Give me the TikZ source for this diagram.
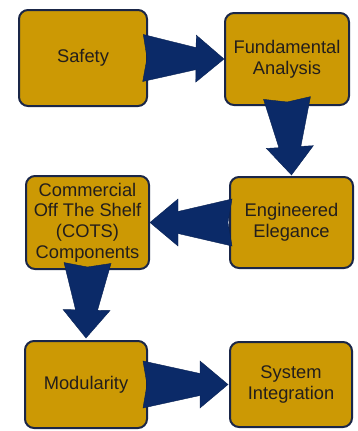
\documentclass[tikz,border=0pt]{standalone}
\usepackage{fontspec}
\setmainfont{Liberation Sans}
\usetikzlibrary{calc}

\definecolor{boxgold}{RGB}{204,153,4}
\definecolor{boxedge}{RGB}{26,38,72}
\definecolor{arrownavy}{RGB}{11,42,104}
\definecolor{labelink}{RGB}{35,30,28}

% Tapered block arrow from tail point #1 to tip point #2
\newcommand{\blockarrow}[2]{%
  \fill[arrownavy, draw=arrownavy!80!black, line width=0.4pt, line join=miter]
    let \p1=(#1), \p2=(#2),
        \n1={atan2(\y2-\y1,\x2-\x1)},
        \n2={veclen(\x2-\x1,\y2-\y1)} in
    ([shift={(\p1)},rotate=\n1] 0pt,23.5pt) --
    ([shift={(\p1)},rotate=\n1] 4pt,0pt) --
    ([shift={(\p1)},rotate=\n1] 0pt,-23.5pt) --
    ([shift={(\p1)},rotate=\n1] {\n2*1pt-28pt},-11pt) --
    ([shift={(\p1)},rotate=\n1] {\n2*1pt-28pt},-23.5pt) --
    ([shift={(\p1)},rotate=\n1] {\n2*1pt},0pt) --
    ([shift={(\p1)},rotate=\n1] {\n2*1pt-28pt},23.5pt) --
    ([shift={(\p1)},rotate=\n1] {\n2*1pt-28pt},11pt) -- cycle;
}

\tikzset{
  stage/.style={draw=boxedge, fill=boxgold, line width=2pt, rounded corners=9pt,
    align=center, text=labelink, inner sep=0pt,
    font=\fontsize{18.3}{20.8}\selectfont},
}

\begin{document}
\begin{tikzpicture}[x=1pt,y=-1pt]
  \useasboundingbox (0,0) rectangle (358,431);

  \node[stage, minimum width=128pt, minimum height=96pt] (safety) at (83,58) {Safety};
  \node[stage, minimum width=124pt, minimum height=92pt] (fund) at (287,59) {Fundamental\\Analysis};
  \node[stage, minimum width=123pt, minimum height=91pt] (eng) at (291.5,222.5) {Engineered\\Elegance};
  \node[stage, minimum width=123pt, minimum height=93pt] (cots) at (87.5,222.5) {Commercial\\Off The Shelf\\(COTS)\\Components};
  \node[stage, minimum width=122pt, minimum height=87pt] (mod) at (86,384.5) {Modularity};
  \node[stage, minimum width=122pt, minimum height=85pt] (sys) at (291,384.5) {System\\Integration};

  \blockarrow{$(safety.east)+(-5,0)$}{fund.west}
  \blockarrow{$(fund.south)+(0,-8)$}{$(eng.north)+(0,-1)$}
  \blockarrow{$(eng.west)+(3,0)$}{cots.east}
  \blockarrow{$(cots.south)+(0,-7)$}{$(mod.north)+(0,-2)$}
  \blockarrow{$(mod.east)+(-5,0)$}{$(sys.west)+(-1,0)$}
\end{tikzpicture}
\end{document}
